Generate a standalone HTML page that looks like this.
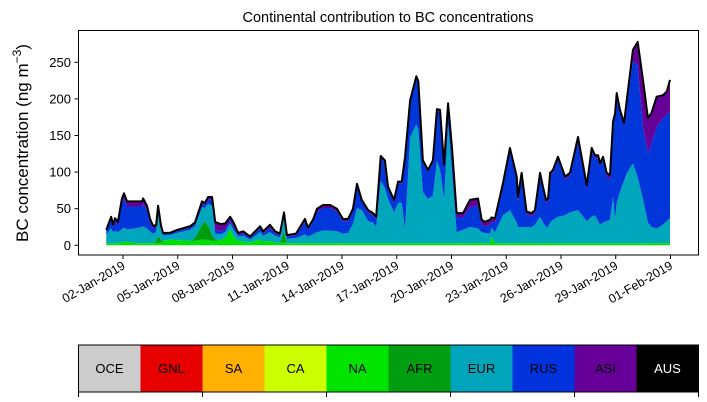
<!DOCTYPE html>
<html><head><meta charset="utf-8"><style>
body{margin:0;background:#fff;}
svg{display:block;font-family:"Liberation Sans","DejaVu Sans",sans-serif;}
</style></head><body>
<svg id="chart" width="707" height="402" viewBox="0 0 707 402">
<text x="388" y="22" text-anchor="middle" font-size="14.5">Continental contribution to BC concentrations</text>
<text transform="translate(28,143) rotate(-90)" text-anchor="middle" font-size="17">BC concentration (ng m<tspan dy="-7" font-size="12">−3</tspan><tspan dy="7">)</tspan></text>
<g id="areas"></g>
<g id="axes"></g>
<g id="legend"></g>
</svg>
<script>
const days=[0.00,0.27,0.37,0.48,0.64,0.86,0.97,1.14,1.58,1.96,2.02,2.23,2.40,2.56,2.73,2.84,3.00,3.11,3.49,3.88,4.59,4.86,5.25,5.41,5.58,5.80,5.97,6.25,6.52,6.79,6.96,7.23,7.51,7.88,8.43,8.60,8.97,9.25,9.52,9.74,9.90,10.40,10.89,11.05,11.33,11.55,11.88,12.27,12.64,12.97,13.25,13.52,13.74,14.00,14.35,14.62,14.79,15.04,15.27,15.44,15.77,15.99,16.19,16.37,16.65,16.99,17.10,17.35,17.63,17.90,18.12,18.29,18.51,18.73,18.94,19.20,19.55,19.93,20.37,20.57,20.75,21.03,21.11,21.30,21.74,22.12,22.49,22.56,22.76,23.03,23.31,23.49,23.77,23.93,24.10,24.21,24.32,24.48,24.75,25.14,25.41,25.85,26.33,26.60,26.78,26.95,27.06,27.22,27.42,27.60,27.77,27.88,27.97,28.15,28.37,28.53,28.86,29.12,29.41,29.68,29.88,30.16,30.50,30.71,30.89];
const naVals=[2,3,3,3,3,4,5,5,3,3,3,3,3,3,4,3,4,6,8,7,6,6,8,8,7,6,6,7,10,22,12,6,5,4,8,5,6,4,3,4,3,3,3,3,3,3,3,3,3,3,3,3,3,3,3,3,3,3,3,3,3,3,3,3,3,3,3,3,3,3,3,3,3,3,3,3,3,3,3,3,3,3,12,3,3,3,3,3,3,3,3,3,3,3,3,3,3,3,3,3,3,3,3,3,3,3,3,3,3,3,3,3,3,3,3,3,3,3,3,3,3,3,3,3,3];
const afrVals=[0,0,0,0,0,0,0,0,0,0,0,0,0,0,2,10,3,0,0,0,0,4,20,25,20,8,2,0,0,0,0,0,0,0,0,0,0,0,0,15,0,0,0,0,0,0,0,0,0,0,0,0,0,0,0,0,0,0,0,0,0,0,0,0,0,0,0,0,0,0,0,0,0,0,0,0,0,0,0,0,0,0,0,0,0,0,0,0,0,0,0,0,0,0,0,0,0,0,0,0,0,0,0,0,0,0,0,0,0,0,0,0,0,0,0,0,0,0,0,0,0,0,0,0,0];
const eurVals=[13,20,15,17,15,18,19,17,20,22,23,20,16,13,12,33,13,8,6,10,15,16,24,18,30,40,8,8,8,8,10,6,8,4,10,8,12,9,8,20,6,7,12,9,12,15,17,17,16,13,14,26,48,45,30,28,22,85,75,60,42,55,55,18,145,162,155,70,60,65,112,100,60,162,100,15,18,22,20,15,14,13,12,15,38,45,28,22,22,22,22,25,36,28,22,22,28,32,36,38,42,45,30,36,38,30,25,28,30,32,63,33,55,70,85,96,109,90,60,28,22,20,25,30,34];
const rusVals=[4,12,7,13,10,36,40,31,30,28,31,25,12,7,5,6,4,2,2,2,3,3,4,4,5,8,5,4,4,4,4,2,3,2,5,3,6,3,3,4,3,4,17,9,17,28,31,31,27,17,16,18,30,11,12,10,11,31,35,14,14,26,26,96,47,63,63,40,37,45,68,79,44,26,29,20,17,27,31,10,9,12,8,13,40,80,58,36,69,17,15,16,56,45,33,35,64,64,78,49,50,96,45,90,78,86,80,86,60,55,100,141,147,109,76,95,140,153,99,95,115,139,145,145,146];
const asiVals=[2,4,3,4,4,6,7,7,7,7,7,6,5,4,4,2,3,1,1,2,2,2,4,3,4,4,11,10,8,5,6,3,3,2,3,3,4,3,2,2,2,2,4,3,3,4,4,4,4,3,3,3,3,3,3,3,3,3,3,3,3,3,3,3,3,3,3,3,3,3,3,3,3,3,3,6,6,10,10,7,6,7,6,6,4,5,5,5,5,4,4,4,4,4,4,4,4,4,4,4,4,4,4,4,4,4,4,4,6,6,3,3,3,3,3,6,15,32,64,48,41,41,32,32,43];
const layerNames=["NA","AFR","EUR","RUS","ASI"];
const layerColors=["#00e000","#009c10","#00a6bc","#0036da","#670099"];
const yTicks=[0,50,100,150,200,250];
const xTickLabels=["02-Jan-2019","05-Jan-2019","08-Jan-2019","11-Jan-2019","14-Jan-2019","17-Jan-2019","20-Jan-2019","23-Jan-2019","26-Jan-2019","29-Jan-2019","01-Feb-2019"];
const xTickDays=[1,4,7,10,13,16,19,22,25,28,31];
const legendNames=["OCE","GNL","SA","CA","NA","AFR","EUR","RUS","ASI","AUS"];
const legendColors=["#cccccc","#e60000","#ffb000","#ccff00","#00e400","#009e10","#00a5bb","#0033dd","#660099","#000000"];

const NS="http://www.w3.org/2000/svg";
const X=d=>106.25+18.25*d;
const Y=v=>245.3-0.732*v;
function mk(tag,attrs,parent){const e=document.createElementNS(NS,tag);for(const k in attrs)e.setAttribute(k,attrs[k]);parent.appendChild(e);return e;}
const areas=document.getElementById('areas');
const series=[naVals,afrVals,eurVals,rusVals,asiVals];
let base=days.map(()=>0);
series.forEach((vals,si)=>{
  const top=base.map((b,i)=>b+vals[i]);
  let d="M"+days.map((t,i)=>X(t).toFixed(2)+","+Y(top[i]).toFixed(2)).join("L");
  for(let i=days.length-1;i>=0;i--)d+="L"+X(days[i]).toFixed(2)+","+Y(base[i]).toFixed(2);
  d+="Z";
  const p=mk('path',{d:d,fill:layerColors[si]},areas);
  
  
  base=top;
});
const totalLine=mk('polyline',{points:days.map((t,i)=>X(t).toFixed(2)+","+Y(base[i]).toFixed(2)).join(" "),fill:"none",stroke:"#000","stroke-width":"2","stroke-linejoin":"round"},areas);



const axes=document.getElementById('axes');
const frame=mk('rect',{x:78.5,y:30.5,width:620,height:224.5,fill:"none",stroke:"#000","stroke-width":"1"},axes);


yTicks.forEach(v=>{
  const y=Y(v);
  const tk=mk('line',{x1:74.5,x2:78.5,y1:y,y2:y,stroke:"#000"},axes);
  
  
  const tl=mk('text',{x:71,y:y+4.5,"text-anchor":"end","font-size":"13"},axes);
  tl.textContent=v;
  
  
});
xTickDays.forEach((d,i)=>{
  const x=X(d)-1.5;
  const tk=mk('line',{x1:x,x2:x,y1:255,y2:259,stroke:"#000"},axes);
  
  
  const tl=mk('text',{transform:`translate(${x+3},${268}) rotate(-30)`,"text-anchor":"end","font-size":"12.5"},axes);
  tl.textContent=xTickLabels[i];
  
  
});

const legend=document.getElementById('legend');
const lx=78.5,lw=62,ly=345,lh=47;
legendNames.forEach((n,i)=>{
  const r=mk('rect',{x:lx+i*lw,y:ly,width:lw,height:lh,fill:legendColors[i]},legend);
  
  
  const t=mk('text',{x:lx+i*lw+lw/2,y:ly+lh/2+4.5,"text-anchor":"middle","font-size":"13",fill:n==="AUS"?"#fff":"#000"},legend);
  t.textContent=n;
  
  
});
const lf=mk('rect',{x:lx,y:ly,width:lw*10,height:lh,fill:"none",stroke:"#000","stroke-width":"1"},legend);


for(let i=0;i<=10;i+=2){
  const tk=mk('line',{x1:lx+i*lw,x2:lx+i*lw,y1:ly+lh,y2:ly+lh+5,stroke:"#000"},legend);
  
  
}
</script>
</body></html>
